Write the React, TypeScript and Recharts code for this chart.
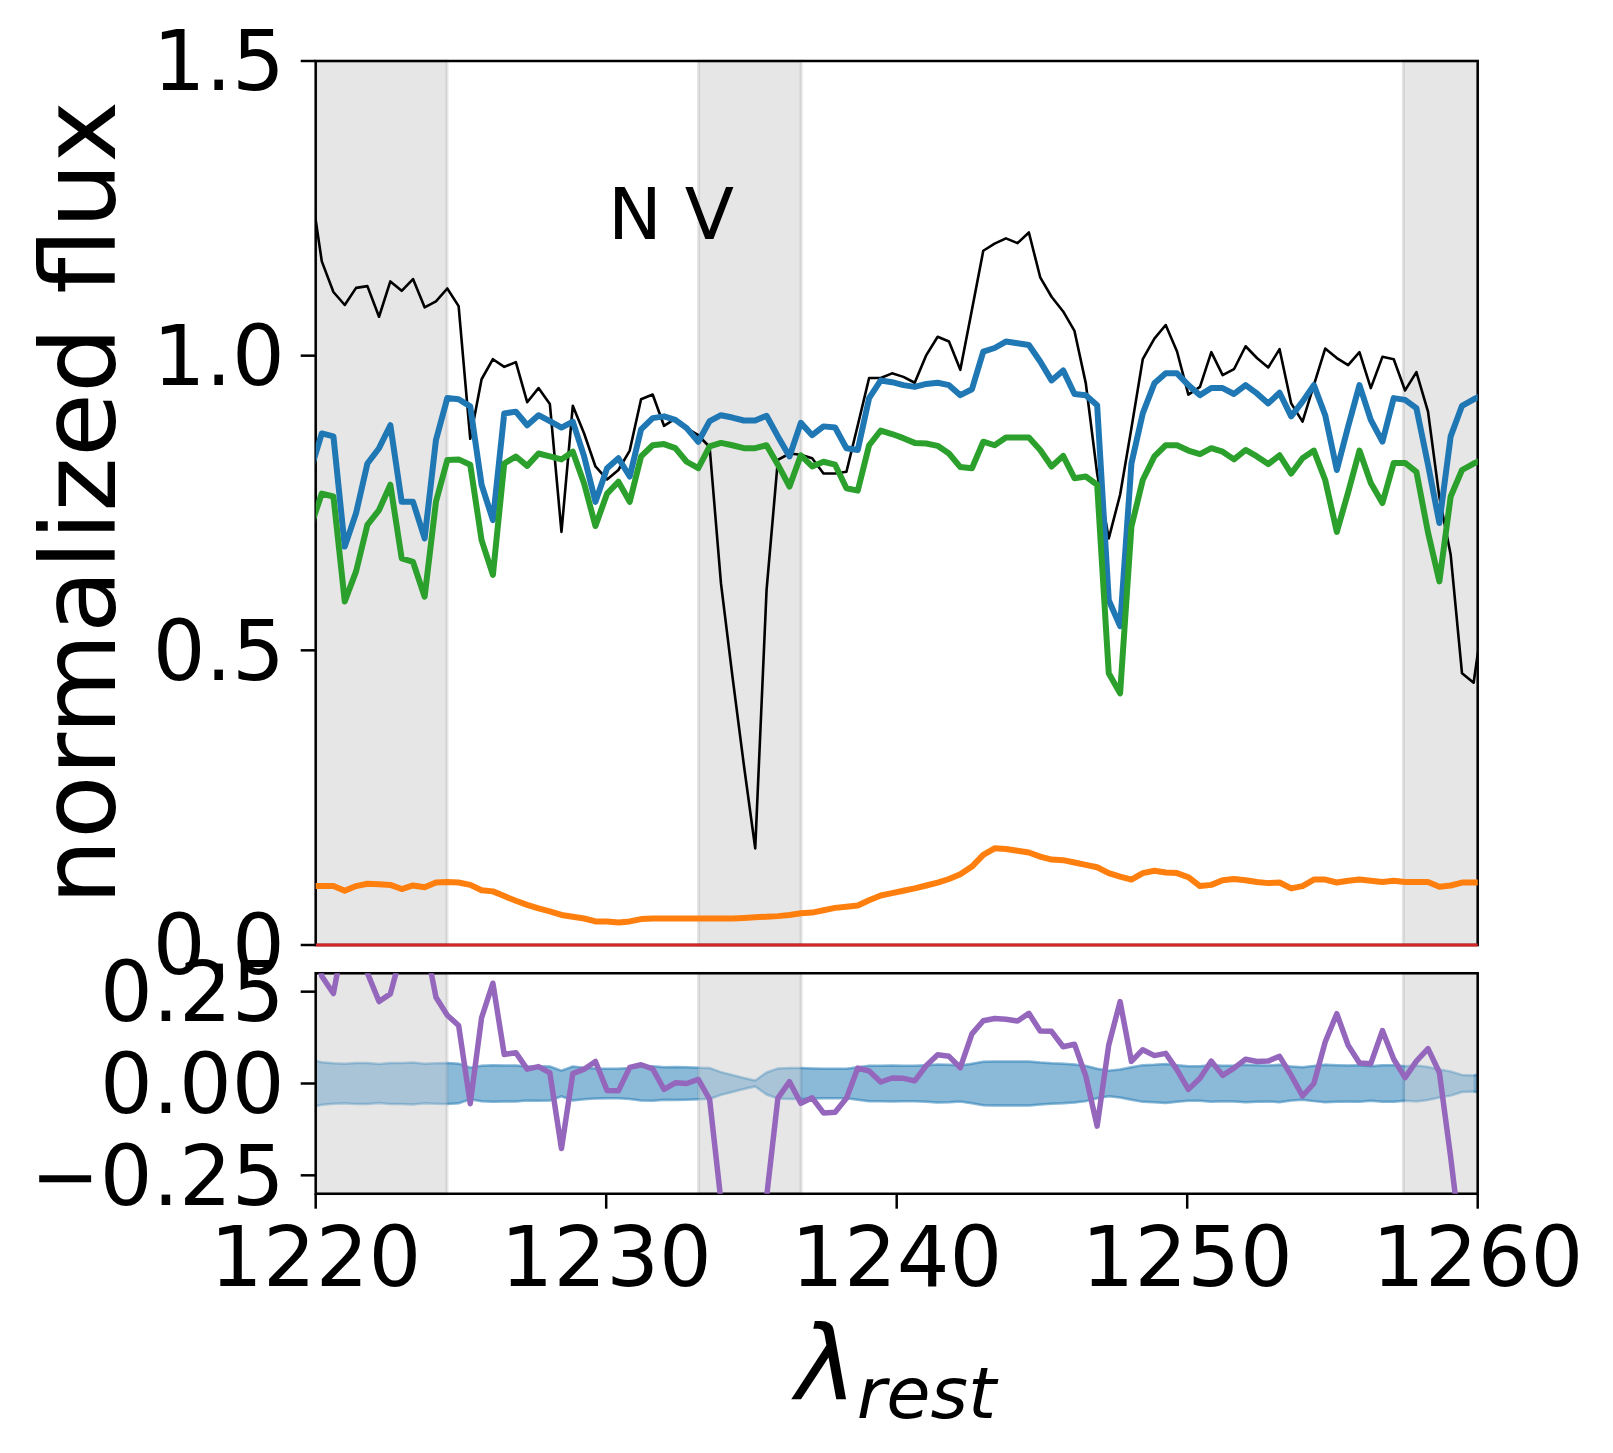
import * as React from "react";
import {
  Area,
  ComposedChart,
  Line,
  ReferenceArea,
  ReferenceDot,
  ReferenceLine,
  XAxis,
  YAxis,
} from "recharts";

// rest-frame wavelength grid (Angstrom), one entry per spectral pixel
const wavelength = [
  1219.82, 1220.21, 1220.61, 1221.0, 1221.39, 1221.78, 1222.18, 1222.57, 1222.96, 1223.35,
  1223.75, 1224.14, 1224.53, 1224.92, 1225.32, 1225.71, 1226.1, 1226.49, 1226.89, 1227.28,
  1227.67, 1228.06, 1228.46, 1228.85, 1229.24, 1229.63, 1230.03, 1230.42, 1230.81, 1231.2,
  1231.6, 1231.99, 1232.38, 1232.77, 1233.17, 1233.56, 1233.95, 1234.34, 1234.74, 1235.13,
  1235.52, 1235.91, 1236.31, 1236.7, 1237.09, 1237.48, 1237.88, 1238.27, 1238.66, 1239.05,
  1239.45, 1239.84, 1240.23, 1240.62, 1241.02, 1241.41, 1241.8, 1242.19, 1242.59, 1242.98,
  1243.37, 1243.76, 1244.16, 1244.55, 1244.94, 1245.33, 1245.73, 1246.12, 1246.51, 1246.9,
  1247.3, 1247.69, 1248.08, 1248.47, 1248.87, 1249.26, 1249.65, 1250.04, 1250.44, 1250.83,
  1251.22, 1251.61, 1252.01, 1252.4, 1252.79, 1253.18, 1253.58, 1253.97, 1254.36, 1254.75,
  1255.15, 1255.54, 1255.93, 1256.32, 1256.72, 1257.11, 1257.5, 1257.89, 1258.29, 1258.68,
  1259.07, 1259.46, 1259.86, 1260.25,
];

// observed normalized flux (black)
const flux = [
  1.29, 1.16, 1.108, 1.086, 1.115, 1.118, 1.066, 1.126, 1.11, 1.13,
  1.082, 1.092, 1.114, 1.084, 0.859, 0.96, 0.994, 0.981, 0.989, 0.921,
  0.945, 0.918, 0.701, 0.915, 0.868, 0.812, 0.79, 0.806, 0.839, 0.926,
  0.934, 0.881, 0.893, 0.877, 0.865, 0.845, 0.614, 0.458, 0.305, 0.164,
  0.602, 0.823, 0.834, 0.832, 0.826, 0.8, 0.8, 0.803, 0.882, 0.962,
  0.962, 0.97, 0.964, 0.954, 1.001, 1.032, 1.024, 0.976, 1.078, 1.178,
  1.19, 1.199, 1.191, 1.209, 1.133, 1.1, 1.075, 1.042, 0.953, 0.8,
  0.69, 0.764, 0.877, 0.994, 1.029, 1.052, 1.007, 0.934, 0.947, 1.006,
  0.967, 0.977, 1.016, 0.996, 0.98, 1.011, 0.919, 0.888, 0.95, 1.012,
  0.996, 0.984, 1.006, 0.945, 0.998, 0.994, 0.941, 0.972, 0.905, 0.76,
  0.662, 0.461, 0.445, 0.58,
];

// best-fit model (blue)
const model = [
  0.805, 0.868, 0.863, 0.676, 0.733, 0.817, 0.843, 0.882, 0.752, 0.752,
  0.69, 0.857, 0.928, 0.926, 0.914, 0.781, 0.721, 0.902, 0.905, 0.882,
  0.899, 0.889, 0.878, 0.888, 0.829, 0.752, 0.809, 0.826, 0.795, 0.875,
  0.894, 0.897, 0.891, 0.877, 0.854, 0.889, 0.899, 0.895, 0.89, 0.89,
  0.898, 0.863, 0.829, 0.886, 0.865, 0.88, 0.878, 0.843, 0.84, 0.928,
  0.958, 0.955, 0.95, 0.947, 0.952, 0.954, 0.95, 0.933, 0.943, 1.007,
  1.013, 1.024, 1.021, 1.018, 0.99, 0.958, 0.975, 0.935, 0.933, 0.916,
  0.585, 0.541, 0.817, 0.902, 0.953, 0.97, 0.97, 0.95, 0.933, 0.945,
  0.945, 0.935, 0.95, 0.936, 0.919, 0.937, 0.897, 0.922, 0.95, 0.899,
  0.806, 0.88, 0.95, 0.891, 0.854, 0.928, 0.925, 0.911, 0.815, 0.716,
  0.863, 0.915, 0.926, 0.935,
];

// absorbed continuum (green)
const absorbed = [
  0.709, 0.766, 0.761, 0.583, 0.634, 0.713, 0.738, 0.781, 0.656, 0.65,
  0.591, 0.752, 0.823, 0.824, 0.815, 0.687, 0.628, 0.817, 0.829, 0.813,
  0.834, 0.829, 0.824, 0.837, 0.783, 0.711, 0.766, 0.786, 0.752, 0.829,
  0.848, 0.85, 0.843, 0.82, 0.809, 0.846, 0.852, 0.848, 0.843, 0.843,
  0.848, 0.815, 0.778, 0.831, 0.812, 0.82, 0.815, 0.775, 0.771, 0.848,
  0.873, 0.867, 0.86, 0.852, 0.851, 0.847, 0.834, 0.811, 0.809, 0.854,
  0.848, 0.861, 0.861, 0.861, 0.84, 0.812, 0.83, 0.792, 0.795, 0.781,
  0.461, 0.427, 0.71, 0.789, 0.829, 0.848, 0.848, 0.839, 0.833, 0.843,
  0.837, 0.824, 0.84, 0.829, 0.816, 0.831, 0.8, 0.826, 0.839, 0.789,
  0.701, 0.768, 0.839, 0.784, 0.75, 0.818, 0.818, 0.803, 0.7, 0.617,
  0.761, 0.806, 0.817, 0.825,
];

// emission component (orange)
const emission = [
  0.1, 0.1, 0.1, 0.092, 0.1, 0.104, 0.103, 0.102, 0.095, 0.101,
  0.098, 0.106, 0.107, 0.106, 0.102, 0.093, 0.091, 0.083, 0.075, 0.068,
  0.062, 0.057, 0.051, 0.048, 0.045, 0.04, 0.04, 0.038, 0.04, 0.044,
  0.045, 0.045, 0.045, 0.045, 0.045, 0.045, 0.045, 0.045, 0.046, 0.047,
  0.048, 0.049, 0.051, 0.054, 0.055, 0.059, 0.063, 0.065, 0.067, 0.076,
  0.084, 0.088, 0.092, 0.096, 0.101, 0.106, 0.112, 0.12, 0.133, 0.153,
  0.164, 0.163, 0.16, 0.157, 0.15, 0.145, 0.144, 0.14, 0.136, 0.132,
  0.122, 0.116, 0.111, 0.122, 0.126, 0.123, 0.122, 0.115, 0.1, 0.102,
  0.11, 0.112, 0.11, 0.107, 0.105, 0.106, 0.096, 0.1, 0.111, 0.111,
  0.106, 0.109, 0.111, 0.109, 0.107, 0.109, 0.107, 0.107, 0.107, 0.099,
  0.101, 0.106, 0.106, 0.106,
];

// residual flux - model (purple, lower panel)
const residual = [
  0.485, 0.292, 0.245, 0.41, 0.382, 0.301, 0.223, 0.244, 0.358, 0.378,
  0.392, 0.235, 0.186, 0.158, -0.055, 0.179, 0.273, 0.079, 0.084, 0.039,
  0.046, 0.029, -0.177, 0.027, 0.039, 0.06, -0.019, -0.02, 0.044, 0.051,
  0.04, -0.016, 0.002, 0.0, 0.011, -0.043, -0.32, -0.437, -0.585, -0.726,
  -0.31, -0.04, 0.005, -0.054, -0.039, -0.08, -0.078, -0.04, 0.042, 0.034,
  0.004, 0.015, 0.014, 0.007, 0.049, 0.078, 0.074, 0.043, 0.135, 0.171,
  0.177, 0.175, 0.17, 0.191, 0.143, 0.142, 0.1, 0.107, 0.02, -0.116,
  0.105, 0.223, 0.06, 0.092, 0.076, 0.082, 0.037, -0.016, 0.014, 0.061,
  0.022, 0.042, 0.066, 0.06, 0.061, 0.074, 0.022, -0.034, 0.0, 0.113,
  0.19, 0.104, 0.056, 0.054, 0.144, 0.066, 0.016, 0.061, 0.095, 0.03,
  -0.201, -0.454, -0.481, -0.355,
];

// half-width of the uncertainty band (lower panel)
const bandHalf = [
  0.064, 0.058, 0.055, 0.054, 0.056, 0.056, 0.053, 0.056, 0.056, 0.057,
  0.054, 0.055, 0.056, 0.054, 0.043, 0.048, 0.05, 0.049, 0.049, 0.046,
  0.047, 0.046, 0.035, 0.046, 0.043, 0.041, 0.04, 0.04, 0.042, 0.046,
  0.047, 0.044, 0.045, 0.044, 0.043, 0.042, 0.031, 0.023, 0.015, 0.008,
  0.03, 0.041, 0.042, 0.042, 0.041, 0.04, 0.04, 0.04, 0.044, 0.048,
  0.048, 0.049, 0.048, 0.048, 0.05, 0.052, 0.051, 0.049, 0.054, 0.059,
  0.06, 0.06, 0.06, 0.06, 0.057, 0.055, 0.054, 0.052, 0.048, 0.04,
  0.035, 0.038, 0.044, 0.05, 0.051, 0.053, 0.05, 0.047, 0.047, 0.05,
  0.048, 0.049, 0.051, 0.05, 0.049, 0.051, 0.046, 0.044, 0.048, 0.051,
  0.05, 0.049, 0.05, 0.047, 0.05, 0.05, 0.047, 0.049, 0.045, 0.038,
  0.033, 0.023, 0.022, 0.029,
];

// masked wavelength windows (grey spans)
const maskedRanges: [number, number][] = [
  [1220, 1224.52],
  [1233.18, 1236.71],
  [1257.44, 1260],
];

const xTicks = [1220, 1230, 1240, 1250, 1260];
const fluxTicks = [0, 0.5, 1.0, 1.5];
const residTicks = [-0.25, 0, 0.25];

const FONT = "DejaVu Sans";
const tickStyle = { fontSize: 83, fill: "#000", fontFamily: FONT };

// a pixel counts as masked when its centre sits well inside a grey window
const isMasked = (wl: number) => maskedRanges.some(([a, b]) => wl > a + 0.15 && wl < b - 0.15);

const data = wavelength.map((wl, i) => ({
  wl,
  flux: flux[i],
  model: model[i],
  absorbed: absorbed[i],
  emission: emission[i],
  residual: residual[i],
  band: [-bandHalf[i], bandHalf[i]],
  bandFit: isMasked(wl) ? null : [-bandHalf[i], bandHalf[i]],
}));

function FluxLabel() {
  return (
    <text
      x={115}
      y={503}
      transform="rotate(-90, 115, 503)"
      textAnchor="middle"
      fontSize={104}
      fontFamily={FONT}
      fill="#000"
    >
      normalized flux
    </text>
  );
}

function LambdaLabel() {
  return (
    <text x={896} y={500} textAnchor="middle" fontFamily={FONT} fill="#000">
      <tspan fontStyle="italic" fontSize={103}>λ</tspan>
      <tspan fontStyle="italic" fontSize={72} dy={18}>rest</tspan>
    </text>
  );
}

const minusFmt = (v: number) => {
  const s = Math.abs(v).toFixed(2);
  return v < 0 ? "\u2212" + s : s;
};

const lineProps = {
  type: "linear" as const,
  dot: false,
  activeDot: false,
  strokeLinejoin: "round" as const,
  isAnimationActive: false,
};

export default function App() {
  return (
    <div style={{ position: "absolute", left: 0, top: 0, width: 1613, height: 1453, background: "#fff" }}>
      <div style={{ position: "absolute", left: 0, top: 0 }}>
        <ComposedChart width={1613} height={1000} data={data} margin={{ top: 61, right: 135.3, bottom: 55, left: 0 }}>
          {maskedRanges.map(([a, b]) => (
            <ReferenceArea
              key={"m" + a}
              x1={a}
              x2={b}
              fill="#808080"
              fillOpacity={0.2}
              stroke="#808080"
              strokeOpacity={0.2}
              strokeWidth={3}
            />
          ))}
          <XAxis dataKey="wl" type="number" domain={[1220, 1260]} allowDataOverflow hide />
          <YAxis
            type="number"
            domain={[0, 1.5]}
            allowDataOverflow
            ticks={fluxTicks}
            interval={0}
            width={315.7}
            tickFormatter={(v: number) => v.toFixed(1)}
            tick={tickStyle}
            tickSize={15}
            tickMargin={16}
            axisLine={false}
            tickLine={{ stroke: "#000", strokeWidth: 2.5 }}
            label={{ content: () => <FluxLabel /> }}
          />
          <Line dataKey="flux" stroke="#000" strokeWidth={2.6} {...lineProps} />
          <Line dataKey="model" stroke="#1f77b4" strokeWidth={6} {...lineProps} />
          <Line dataKey="absorbed" stroke="#2ca02c" strokeWidth={6} {...lineProps} />
          <Line dataKey="emission" stroke="#ff7f0e" strokeWidth={6} {...lineProps} />
          <ReferenceLine y={0} stroke="#d62728" strokeWidth={3} />
          <ReferenceDot
            x={1232.23}
            y={1.2415}
            r={0}
            fill="none"
            stroke="none"
            label={{ value: "N V", position: "center", fontSize: 72, fill: "#000", fontFamily: FONT }}
          />
          <ReferenceArea x1={1220} x2={1260} y1={0} y2={1.5} fill="none" stroke="#000" strokeWidth={2.5} />
        </ComposedChart>
      </div>
      <div style={{ position: "absolute", left: 0, top: 900 }}>
        <ComposedChart width={1613} height={553} data={data} margin={{ top: 73.3, right: 135.3, bottom: 199.3, left: 0 }}>
          {maskedRanges.map(([a, b]) => (
            <ReferenceArea
              key={"r" + a}
              x1={a}
              x2={b}
              fill="#808080"
              fillOpacity={0.2}
              stroke="#808080"
              strokeOpacity={0.2}
              strokeWidth={3}
            />
          ))}
          <XAxis
            dataKey="wl"
            type="number"
            domain={[1220, 1260]}
            allowDataOverflow
            ticks={xTicks}
            interval={0}
            height={60}
            tick={tickStyle}
            tickSize={15}
            tickMargin={18}
            axisLine={false}
            tickLine={{ stroke: "#000", strokeWidth: 2.5 }}
            label={{ content: () => <LambdaLabel /> }}
          />
          <YAxis
            type="number"
            domain={[-0.3, 0.3]}
            allowDataOverflow
            ticks={residTicks}
            interval={0}
            width={315.7}
            tickFormatter={minusFmt}
            tick={tickStyle}
            tickSize={15}
            tickMargin={16}
            axisLine={false}
            tickLine={{ stroke: "#000", strokeWidth: 2.5 }}
          />
          <Area
            dataKey="band"
            type="linear"
            stroke="#1f77b4"
            strokeOpacity={0.3}
            strokeWidth={2.5}
            fill="#1f77b4"
            fillOpacity={0.3}
            dot={false}
            activeDot={false}
            isAnimationActive={false}
          />
          <Area
            dataKey="bandFit"
            type="linear"
            stroke="#1f77b4"
            strokeOpacity={0.3}
            strokeWidth={2.5}
            fill="#1f77b4"
            fillOpacity={0.3}
            dot={false}
            activeDot={false}
            isAnimationActive={false}
          />
          <Line dataKey="residual" stroke="#9467bd" strokeWidth={5.5} {...lineProps} />
          <ReferenceArea x1={1220} x2={1260} y1={-0.3} y2={0.3} fill="none" stroke="#000" strokeWidth={2.5} />
        </ComposedChart>
      </div>
    </div>
  );
}
